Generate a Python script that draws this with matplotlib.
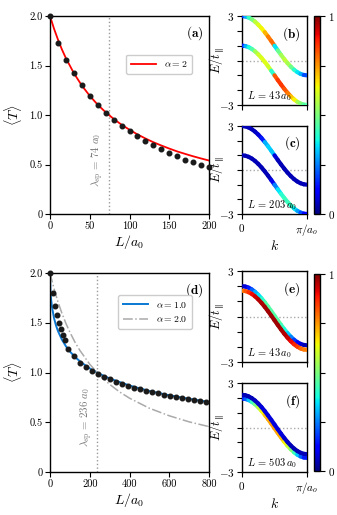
import numpy as np
import matplotlib
matplotlib.use("Agg")
import matplotlib.pyplot as plt
from matplotlib.collections import LineCollection
from matplotlib.cm import ScalarMappable
from matplotlib.colors import Normalize

plt.rcParams['font.family'] = 'serif'
plt.rcParams['font.serif'] = ['cmr10', 'DejaVu Serif']
plt.rcParams['mathtext.fontset'] = 'cm'
plt.rcParams['axes.unicode_minus'] = False
plt.rcParams['axes.linewidth'] = 1.0

# ---- panel (a) data
L_a = [0, 10, 20, 30, 40, 50, 60, 70, 80, 90, 100, 110, 120, 130, 140, 150, 160, 170, 180, 190, 200]
T_a = [2.0, 1.724, 1.552, 1.42, 1.30, 1.195, 1.098, 1.017, 0.946, 0.889, 0.838, 0.785, 0.741,
       0.697, 0.653, 0.616, 0.582, 0.549, 0.522, 0.498, 0.471]
Lfit_a = [0, 5, 10, 15, 20, 30, 40, 50, 60, 70, 80, 90, 100, 110, 120, 130, 140, 150, 160, 170, 180, 190, 200]
Tfit_a = [2.0, 1.873, 1.762, 1.662, 1.574, 1.423, 1.298, 1.194, 1.104, 1.028, 0.961, 0.902, 0.851,
          0.804, 0.763, 0.725, 0.692, 0.661, 0.632, 0.607, 0.583, 0.561, 0.540]
lam_a = 74

# ---- panel (d) data
L_d = [0, 13, 23, 33, 43, 53, 63, 73, 93, 123, 153, 183, 213, 243, 273, 303, 333, 363, 393, 423,
       453, 483, 513, 543, 573, 603, 633, 663, 693, 723, 753, 783]
T_d = [2.0, 1.80, 1.67, 1.58, 1.50, 1.44, 1.38, 1.33, 1.24, 1.165, 1.10, 1.055, 1.015, 0.982,
       0.955, 0.93, 0.905, 0.885, 0.865, 0.848, 0.832, 0.817, 0.803, 0.79, 0.777, 0.765, 0.754,
       0.743, 0.732, 0.722, 0.71, 0.70]
Lfit1_d = [0, 2, 5, 10, 20, 30, 40, 60, 80, 100, 130, 160, 200, 250, 300, 400, 500, 600, 700, 800]
Tfit1_d = [2.0, 1.831, 1.746, 1.659, 1.549, 1.474, 1.417, 1.330, 1.264, 1.211, 1.148, 1.097,
           1.041, 0.986, 0.940, 0.869, 0.814, 0.771, 0.735, 0.704]
Lfit2_d = [0, 20, 40, 60, 80, 100, 125, 150, 200, 250, 300, 350, 400, 500, 600, 700, 800]
Tfit2_d = [2.0, 1.844, 1.710, 1.595, 1.494, 1.405, 1.307, 1.223, 1.083, 0.971, 0.881, 0.805,
           0.742, 0.641, 0.565, 0.504, 0.456]
lam_d = 236

# ---- band structures, k from 0 to pi/a
n_k = 21
E_bc_up = [3.0, 2.975, 2.902, 2.782, 2.618, 2.414, 2.176, 1.908, 1.618, 1.313, 1.0, 0.687, 0.382,
           0.092, -0.176, -0.414, -0.618, -0.782, -0.902, -0.975, -1.0]
E_bc_lo = [1.0, 0.975, 0.902, 0.782, 0.618, 0.414, 0.176, -0.092, -0.382, -0.687, -1.0, -1.313,
           -1.618, -1.908, -2.176, -2.414, -2.618, -2.782, -2.902, -2.975, -3.0]
E_e_up = [2.0, 1.976, 1.905, 1.787, 1.628, 1.429, 1.196, 0.935, 0.653, 0.355, 0.05, -0.255,
          -0.553, -0.835, -1.096, -1.329, -1.528, -1.687, -1.805, -1.876, -1.9]
E_e_lo = [1.7, 1.676, 1.605, 1.487, 1.328, 1.129, 0.896, 0.635, 0.353, 0.055, -0.25, -0.555,
          -0.853, -1.135, -1.396, -1.629, -1.828, -1.987, -2.105, -2.176, -2.2]
E_f_up = [2.2, 2.175, 2.102, 1.982, 1.818, 1.614, 1.376, 1.108, 0.818, 0.513, 0.2, -0.113,
          -0.418, -0.708, -0.976, -1.214, -1.418, -1.582, -1.702, -1.775, -1.8]
E_f_lo = [1.95, 1.925, 1.852, 1.732, 1.568, 1.364, 1.126, 0.858, 0.568, 0.263, -0.05, -0.363,
          -0.668, -0.958, -1.226, -1.464, -1.668, -1.832, -1.952, -2.025, -2.05]

# weights on each segment (colour scale 0..1)
w_b_up = [0.15, 0.3, 0.42, 0.5, 0.58, 0.62, 0.65, 0.72, 0.78, 0.8, 0.35, 0.48, 0.55, 0.58, 0.55,
          0.48, 0.4, 0.35, 0.3, 0.2]
w_b_lo = [0.15, 0.3, 0.38, 0.45, 0.55, 0.6, 0.62, 0.62, 0.6, 0.4, 0.82, 0.85, 0.85, 0.82, 0.78,
          0.7, 0.65, 0.55, 0.5, 0.45]
w_c_up = [0.05, 0.05, 0.05, 0.05, 0.06, 0.08, 0.15, 0.3, 0.33, 0.32, 0.08, 0.05, 0.05, 0.05,
          0.05, 0.05, 0.05, 0.05, 0.05, 0.05]
w_c_lo = [0.05, 0.05, 0.05, 0.05, 0.05, 0.05, 0.05, 0.05, 0.05, 0.1, 0.25, 0.35, 0.4, 0.42,
          0.42, 0.4, 0.35, 0.28, 0.2, 0.12]
w_e_up = [0.05, 0.08, 0.15, 0.22, 0.3, 0.35, 0.4, 0.45, 0.45, 0.45, 0.45, 0.45, 0.42, 0.38,
          0.32, 0.25, 0.18, 0.12, 0.08, 0.05]
w_e_lo = [0.78, 0.82, 0.86, 0.9, 0.93, 0.95, 0.96, 0.97, 0.97, 0.97, 0.97, 0.97, 0.96, 0.95,
          0.93, 0.9, 0.87, 0.84, 0.8, 0.78]
w_f_up = [0.05, 0.05, 0.05, 0.05, 0.06, 0.07, 0.08, 0.08, 0.08, 0.08, 0.08, 0.08, 0.08, 0.07,
          0.06, 0.05, 0.05, 0.05, 0.05, 0.05]
w_f_lo = [0.15, 0.22, 0.32, 0.42, 0.5, 0.58, 0.65, 0.7, 0.73, 0.74, 0.74, 0.73, 0.7, 0.65,
          0.58, 0.5, 0.42, 0.32, 0.22, 0.15]

W, H = 337, 515
fig = plt.figure(figsize=(W / 100, H / 100), dpi=100)


def px_axes(x0, x1, y0, y1):
    # pixel box (top-left origin) -> figure axes
    return fig.add_axes([x0 / W, 1 - y1 / H, (x1 - x0) / W, (y1 - y0) / H])


def left_panel(ax, xmax, xticks, lam, label):
    ax.set_xlim(0, xmax)
    ax.set_ylim(0, 2.0)
    ax.set_xticks(xticks)
    ax.set_xticklabels([str(t) for t in xticks], fontsize=7.5)
    ax.set_yticks([0, 0.5, 1.0, 1.5, 2.0])
    ax.set_yticklabels(['0', '0.5', '1.0', '1.5', '2.0'], fontsize=7.5)
    ax.tick_params(direction='out', length=3.5, width=0.8, pad=2)
    ax.set_xlabel(r'$L/a_0$', fontsize=10, labelpad=1)
    ax.set_ylabel(r'$\langle T\rangle$', fontsize=10, labelpad=4)
    ax.axvline(lam, color='#999999', ls=':', lw=1.0, zorder=1)
    ax.text(lam - xmax * 0.015, 0.55, r'$\lambda_{\rm sp}\,=\,%d\;a_0$' % lam, rotation=90,
            ha='right', va='center', fontsize=7.8, color='#777777')
    ax.text(0.965, 0.915, r'$\mathbf{(%s)}$' % label, transform=ax.transAxes,
            ha='right', va='center', fontsize=9.5)


def band_panel(ax, bands, Ltxt, label, bottom):
    k = np.linspace(0, np.pi, n_k)
    for E, w in bands:
        pts = np.column_stack([k, E]).reshape(-1, 1, 2)
        segs = np.concatenate([pts[:-1], pts[1:]], axis=1)
        lc = LineCollection(segs, cmap='jet', norm=Normalize(0, 1), linewidths=3.0,
                            capstyle='round', zorder=3)
        lc.set_array(np.array(w))
        ax.add_collection(lc)
    ax.axhline(0, color='#aaaaaa', ls=':', lw=1.0, zorder=1)
    ax.set_xlim(0, np.pi)
    ax.set_ylim(-3, 3)
    ax.set_yticks([-3, -2, -1, 0, 1, 2, 3])
    ax.set_yticklabels(['$-3$', '', '', '', '', '', '$3$'], fontsize=8)
    ax.set_xticks([0, np.pi])
    if bottom:
        ax.set_xticklabels(['$0$', r'$\pi/a_o$'], fontsize=8)
        ax.set_xlabel(r'$k$', fontsize=10, labelpad=1)
    else:
        ax.set_xticklabels(['', ''])
    ax.tick_params(direction='out', length=3.5, width=0.8, pad=2)
    ax.set_ylabel(r'$E/t_{\parallel}$', fontsize=9)
    ax.yaxis.set_label_coords(-0.25, 0.5)
    ax.text(0.08, 0.1, r'$L\,=\,%d\,a_0$' % Ltxt, transform=ax.transAxes,
            ha='left', va='center', fontsize=7.5)
    ax.text(0.9, 0.8, r'$\mathbf{(%s)}$' % label, transform=ax.transAxes,
            ha='right', va='center', fontsize=9.5)


def colorbar(cax):
    sm = ScalarMappable(norm=Normalize(0, 1), cmap='jet')
    cb = fig.colorbar(sm, cax=cax, ticks=[0, 1])
    cb.ax.set_yticklabels(['$0$', '$1$'], fontsize=8)
    cb.ax.set_yticks([0.25, 0.5, 0.75], minor=True)
    cb.ax.tick_params(which='both', direction='out', length=3.5, width=0.8, pad=2)
    cb.outline.set_linewidth(1.0)


# (a)
ax_a = px_axes(50, 209, 16, 214)
ax_a.plot(Lfit_a, Tfit_a, color='red', lw=1.3, label=r'$\alpha = 2$', zorder=2)
ax_a.plot(L_a, T_a, 'o', color='#1a1a1a', ms=3.3, clip_on=False, zorder=4)
left_panel(ax_a, 200, [0, 50, 100, 150, 200], lam_a, 'a')
ax_a.legend(loc='upper right', bbox_to_anchor=(0.925, 0.83), fontsize=7, handlelength=2.6,
            borderpad=0.5, framealpha=1)

# (b), (c)
ax_b = px_axes(242, 307, 16, 105)
band_panel(ax_b, [(E_bc_up, w_b_up), (E_bc_lo, w_b_lo)], 43, 'b', False)
ax_c = px_axes(242, 307, 126, 214)
band_panel(ax_c, [(E_bc_up, w_c_up), (E_bc_lo, w_c_lo)], 203, 'c', True)
colorbar(px_axes(314, 320, 16, 214))

# (d)
ax_d = px_axes(50, 209, 273, 472)
ax_d.plot(Lfit1_d, Tfit1_d, color='#0a78d2', lw=1.4, label=r'$\alpha = 1.0$', zorder=2)
ax_d.plot(Lfit2_d, Tfit2_d, color='#aaaaaa', lw=1.1, ls='-.', label=r'$\alpha = 2.0$', zorder=2)
ax_d.plot(L_d, T_d, 'o', color='#1a1a1a', ms=3.3, clip_on=False, zorder=4)
left_panel(ax_d, 800, [0, 200, 400, 600, 800], lam_d, 'd')
ax_d.legend(loc='upper right', bbox_to_anchor=(0.925, 0.915), fontsize=7, handlelength=2.6,
            borderpad=0.5, framealpha=1)

# (e), (f)
ax_e = px_axes(242, 307, 271, 362)
band_panel(ax_e, [(E_e_up, w_e_up), (E_e_lo, w_e_lo)], 43, 'e', False)
ax_f = px_axes(242, 307, 383, 472)
band_panel(ax_f, [(E_f_lo, w_f_lo), (E_f_up, w_f_up)], 503, 'f', True)
colorbar(px_axes(314, 320, 274, 471))

fig.savefig('out.png', dpi=100)
